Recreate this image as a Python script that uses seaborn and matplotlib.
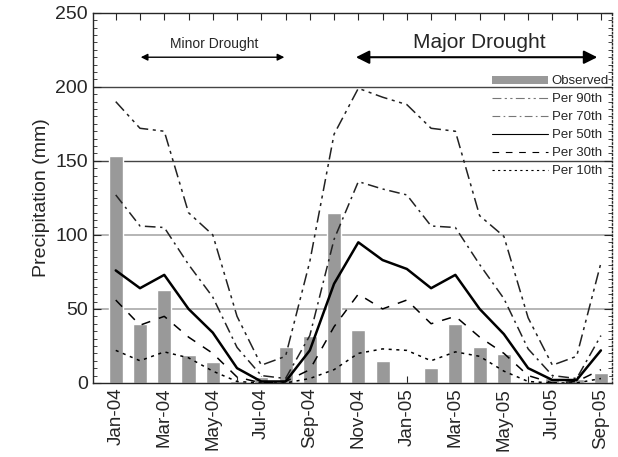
import numpy as np
import pandas as pd
import seaborn as sns
import matplotlib.pyplot as plt
from matplotlib.lines import Line2D
from matplotlib.patches import Patch

months = ["Jan-04", "Feb-04", "Mar-04", "Apr-04", "May-04", "Jun-04", "Jul-04",
          "Aug-04", "Sep-04", "Oct-04", "Nov-04", "Dec-04", "Jan-05", "Feb-05",
          "Mar-05", "Apr-05", "May-05", "Jun-05", "Jul-05", "Aug-05", "Sep-05"]

observed = [153, 40, 63, 19, 14, 1, 4, 24.5, 32, 115, 36, 15, 0, 10, 40, 24.5,
            19.5, 0, 3.6, 2.7, 6.5]

per90 = [190, 172, 170, 115, 100, 45, 12, 18, 82, 168, 199, 193,
         188, 172, 170, 113, 99, 44, 12, 18, 81]
per70 = [127, 106, 105, 80, 58, 24, 5, 3, 32, 97, 136, 131,
         127, 106, 105, 80, 57, 23, 5, 3, 32]
per50 = [76, 64, 73, 50, 34, 10, 1, 1, 22, 67, 95, 83,
         77, 64, 73, 50, 33, 10, 2, 2, 22]
per30 = [56, 39, 45, 31, 20, 4, 0, 1, 9, 38, 60, 50,
         56, 40, 45, 31, 20, 5, 0, 1, 9]
per10 = [22, 15, 21, 17, 8, 1, 0, 0, 3, 9, 20, 23,
         22, 15, 21, 18, 8, 1, 0, 0, 3]

sns.set_style("ticks")
plt.rcParams["font.family"] = ["Liberation Sans", "DejaVu Sans"]

fig = plt.figure(figsize=(6.18, 4.57), dpi=100)
ax = fig.add_axes([0.150, 0.162, 0.840, 0.810])

x = np.arange(len(months))
df = pd.DataFrame({"month": months, "observed": observed})

# gridlines
for v in [150, 200]:
    ax.axhline(v, color="#444444", lw=1.0, zorder=0)
for v in [50, 100]:
    ax.axhline(v, color="#b0b0b0", lw=1.3, zorder=0)

sns.barplot(data=df, x="month", y="observed", color="#999999", width=0.58,
            saturation=1, ax=ax, zorder=2)

styles = [
    ("Per 90th", per90, dict(color="#222222", lw=1.1, dashes=(8, 3, 2, 3, 2, 3))),
    ("Per 70th", per70, dict(color="#222222", lw=1.1, dashes=(7, 3, 1.5, 3))),
    ("Per 50th", per50, dict(color="black", lw=1.8, dashes=None)),
    ("Per 30th", per30, dict(color="black", lw=1.1, dashes=(6, 6))),
    ("Per 10th", per10, dict(color="black", lw=1.1, dashes=(2, 3))),
]
for name, vals, st in styles:
    sns.lineplot(x=x, y=vals, color=st["color"], lw=st["lw"], ax=ax, zorder=3)
    if st["dashes"] is not None:
        ax.lines[-1].set_dashes(st["dashes"])

ax.set_xlim(-0.95, 20.45)
ax.set_ylim(0, 250)
ax.set_xticks(x)
ax.set_xticklabels([m if i % 2 == 0 else "" for i, m in enumerate(months)],
                   rotation=90, fontsize=13.5)
ax.set_yticks([0, 50, 100, 150, 200, 250])
ax.set_yticks(np.arange(0, 251, 5), minor=True)
ax.tick_params(axis="y", which="major", direction="in", length=6, labelsize=14,
               right=True)
ax.tick_params(axis="y", which="minor", direction="in", length=3, right=True)
ax.tick_params(axis="x", direction="in", length=5, top=True)
ax.set_xlabel("")
ax.set_ylabel("Precipitation (mm)", fontsize=14)
ax.spines["right"].set_linestyle(":")
for s in ax.spines.values():
    s.set_linewidth(1.0)

# drought periods
ax.annotate("", xy=(6.95, 220), xytext=(1.03, 220),
            arrowprops=dict(arrowstyle="<|-|>", color="black", lw=1.0,
                            mutation_scale=10, shrinkA=0, shrinkB=0))
ax.text(4.05, 229, "Minor Drought", ha="center", va="center", fontsize=10)
ax.annotate("", xy=(19.85, 220), xytext=(9.9, 220),
            arrowprops=dict(arrowstyle="<|-|>", color="black", lw=1.5,
                            mutation_scale=20, shrinkA=0, shrinkB=0))
ax.text(15.0, 230, "Major Drought", ha="center", va="center", fontsize=15)

handles = [Patch(facecolor="#999999", edgecolor="none", label="Observed")]
for name, vals, st in styles:
    h = Line2D([], [], color="#777777" if name in ("Per 90th", "Per 70th") else "black",
               lw=0.8, label=name)
    if st["dashes"] is not None:
        h.set_dashes(st["dashes"])
    handles.append(h)
ax.legend(handles=handles, loc="upper right", bbox_to_anchor=(1.01, 0.852),
          frameon=False, fontsize=9.5, handlelength=4.2, handleheight=0.5,
          labelspacing=0.45, handletextpad=0.3, borderaxespad=0.2)

fig.savefig("out.png", dpi=100)
